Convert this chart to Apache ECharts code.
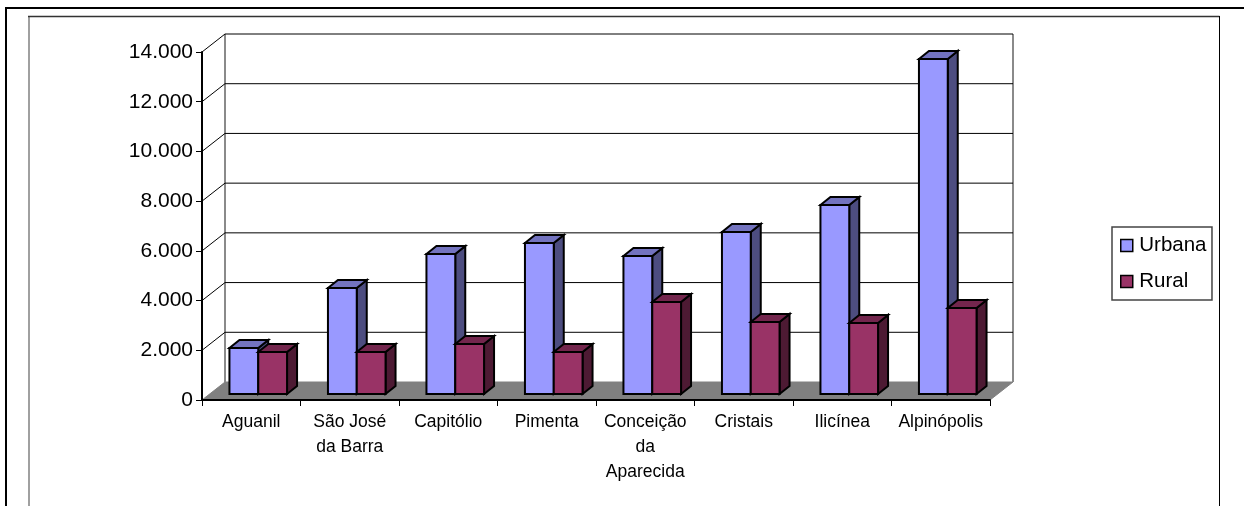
<!DOCTYPE html>
<html>
<head>
<meta charset="utf-8">
<style>html,body{margin:0;padding:0;background:#fff}#c{width:1244px;height:506px}</style>
<script src="https://cdn.jsdelivr.net/npm/echarts@6/dist/echarts.min.js"></script>
</head>
<body>
<div id="c"></div>
<script>
var categories = ['Aguanil', 'São José\nda Barra', 'Capitólio', 'Pimenta', 'Conceição\nda\nAparecida', 'Cristais', 'Ilicínea', 'Alpinópolis'];
var urbana = [1850, 4265, 5630, 6075, 5550, 6520, 7600, 13480];
var rural = [1690, 1690, 2010, 1690, 3700, 2900, 2860, 3460];
var yTicks = [0, 2000, 4000, 6000, 8000, 10000, 12000, 14000];

var FONT = '"Liberation Sans", Arial, sans-serif';
var WALL_DX = 23, WALL_DY = -18;
var BAR_FRONT_DX = 7, BAR_FRONT_DY = -6;
var BAR_DX = 10, BAR_DY = -8;
var BAR_W = 28.8;

function poly(points, fill, stroke, lw) {
  return { type: 'polygon', shape: { points: points }, style: { fill: fill, stroke: stroke, lineWidth: lw, lineJoin: 'miter' } };
}
function line(points, stroke, lw) {
  return { type: 'polyline', shape: { points: points }, style: { fill: 'none', stroke: stroke, lineWidth: lw } };
}

function barRenderer(slot, front, top, side) {
  return function (params, api) {
    var i = api.value(0), v = api.value(1);
    var c = api.coord([i, v]), b = api.coord([i, 0]);
    var x0 = c[0] + BAR_FRONT_DX + slot * BAR_W;
    var x1 = x0 + BAR_W;
    var yT = c[1] + BAR_FRONT_DY, yB = b[1] + BAR_FRONT_DY;
    return {
      type: 'group',
      children: [
        poly([[x1, yT], [x1 + BAR_DX, yT + BAR_DY], [x1 + BAR_DX, yB + BAR_DY], [x1, yB]], side, '#000', 2),
        poly([[x0, yT], [x0 + BAR_DX, yT + BAR_DY], [x1 + BAR_DX, yT + BAR_DY], [x1, yT]], top, '#000', 2),
        poly([[x0, yT], [x1, yT], [x1, yB], [x0, yB]], front, '#000', 2)
      ]
    };
  };
}

function frameRenderer(params, api) {
  var v = api.value(1);
  var n = categories.length;
  var half = api.size([1, 0])[0] / 2;
  var l = api.coord([0, v])[0] - half, r = api.coord([n - 1, v])[0] + half;
  var y = api.coord([0, v])[1];
  var bx0 = l + WALL_DX, bx1 = r + WALL_DX, by = y + WALL_DY;
  var children = [];
  if (v === 0) {
    children.push(poly([[l, y], [bx0, by], [bx1, by], [r, y]], '#808080', '#808080', 1));
    children.push(line([[bx0, by], [bx0, api.coord([0, yTicks[yTicks.length - 1]])[1] + WALL_DY]], '#8a8a8a', 2));
    children.push(line([[bx1, by], [bx1, api.coord([0, yTicks[yTicks.length - 1]])[1] + WALL_DY]], '#8a8a8a', 2));
  } else {
    children.push(line([[l, y], [bx0, by], [bx1, by]], '#000', 1));
  }
  return { type: 'group', children: children };
}

var chart = echarts.init(document.getElementById('c'), null, { renderer: 'canvas' });
chart.setOption({
  animation: false,
  backgroundColor: '#fff',
  textStyle: { fontFamily: FONT },
  grid: { left: 202, top: 52, width: 788, height: 348, containLabel: false },
  xAxis: {
    type: 'category',
    data: categories,
    z: 5,
    axisLine: { lineStyle: { color: '#000', width: 2 } },
    axisTick: { show: true, length: 6, alignWithLabel: false, lineStyle: { color: '#000', width: 1 } },
    axisLabel: { interval: 0, color: '#000', fontFamily: FONT, fontSize: 17.5, lineHeight: 25, margin: 10 },
    splitLine: { show: false }
  },
  yAxis: {
    type: 'value',
    min: 0,
    max: 14000,
    interval: 2000,
    z: 5,
    axisLine: { show: true, lineStyle: { color: '#000', width: 2 } },
    axisTick: { show: true, length: 6, lineStyle: { color: '#000', width: 1 } },
    axisLabel: {
      color: '#000', fontFamily: FONT, fontSize: 21, margin: 9,
      formatter: function (v) { return String(v).replace(/\B(?=(\d{3})+$)/g, '.'); }
    },
    splitLine: { show: false }
  },
  legend: {
    orient: 'vertical',
    left: 1112,
    top: 227,
    padding: [8, 5.5, 8, 8],
    itemWidth: 12,
    itemHeight: 12,
    itemGap: 15,
    icon: 'rect',
    backgroundColor: '#fff',
    borderColor: '#444',
    borderWidth: 1.5,
    data: ['Urbana', 'Rural'],
    selectedMode: false,
    itemStyle: { borderColor: '#000', borderWidth: 1.5 },
    textStyle: { color: '#000', fontFamily: FONT, fontSize: 20.5, padding: [0, 0, 0, 1.5] }
  },
  graphic: [
    { type: 'polyline', silent: true, shape: { points: [[6, 506], [6, 8], [1244, 8]] }, style: { fill: 'none', stroke: '#000', lineWidth: 2 } },
    { type: 'polyline', silent: true, shape: { points: [[29, 506], [29, 17]] }, style: { fill: 'none', stroke: '#808080', lineWidth: 1.5 } },
    { type: 'polyline', silent: true, shape: { points: [[28, 16.5], [1219.5, 16.5]] }, style: { fill: 'none', stroke: '#333', lineWidth: 1.5 } },
    { type: 'polyline', silent: true, shape: { points: [[1219.5, 16], [1219.5, 506]] }, style: { fill: 'none', stroke: '#000', lineWidth: 1 } }
  ],
  series: [
    {
      type: 'custom', name: 'frame', silent: true, z: 1, clip: false,
      renderItem: frameRenderer,
      encode: { x: 0, y: 1 },
      data: yTicks.map(function (t) { return [0, t]; })
    },
    {
      type: 'custom', name: 'Urbana', silent: true, z: 2, clip: false,
      renderItem: barRenderer(-1, '#9999FF', '#7373BF', '#4D4D80'),
      itemStyle: { color: '#9999FF' },
      encode: { x: 0, y: 1 },
      data: urbana.map(function (v, i) { return [i, v]; })
    },
    {
      type: 'custom', name: 'Rural', silent: true, z: 3, clip: false,
      renderItem: barRenderer(0, '#993366', '#73264D', '#4D1A33'),
      itemStyle: { color: '#993366' },
      encode: { x: 0, y: 1 },
      data: rural.map(function (v, i) { return [i, v]; })
    }
  ]
});
</script>
</body>
</html>
